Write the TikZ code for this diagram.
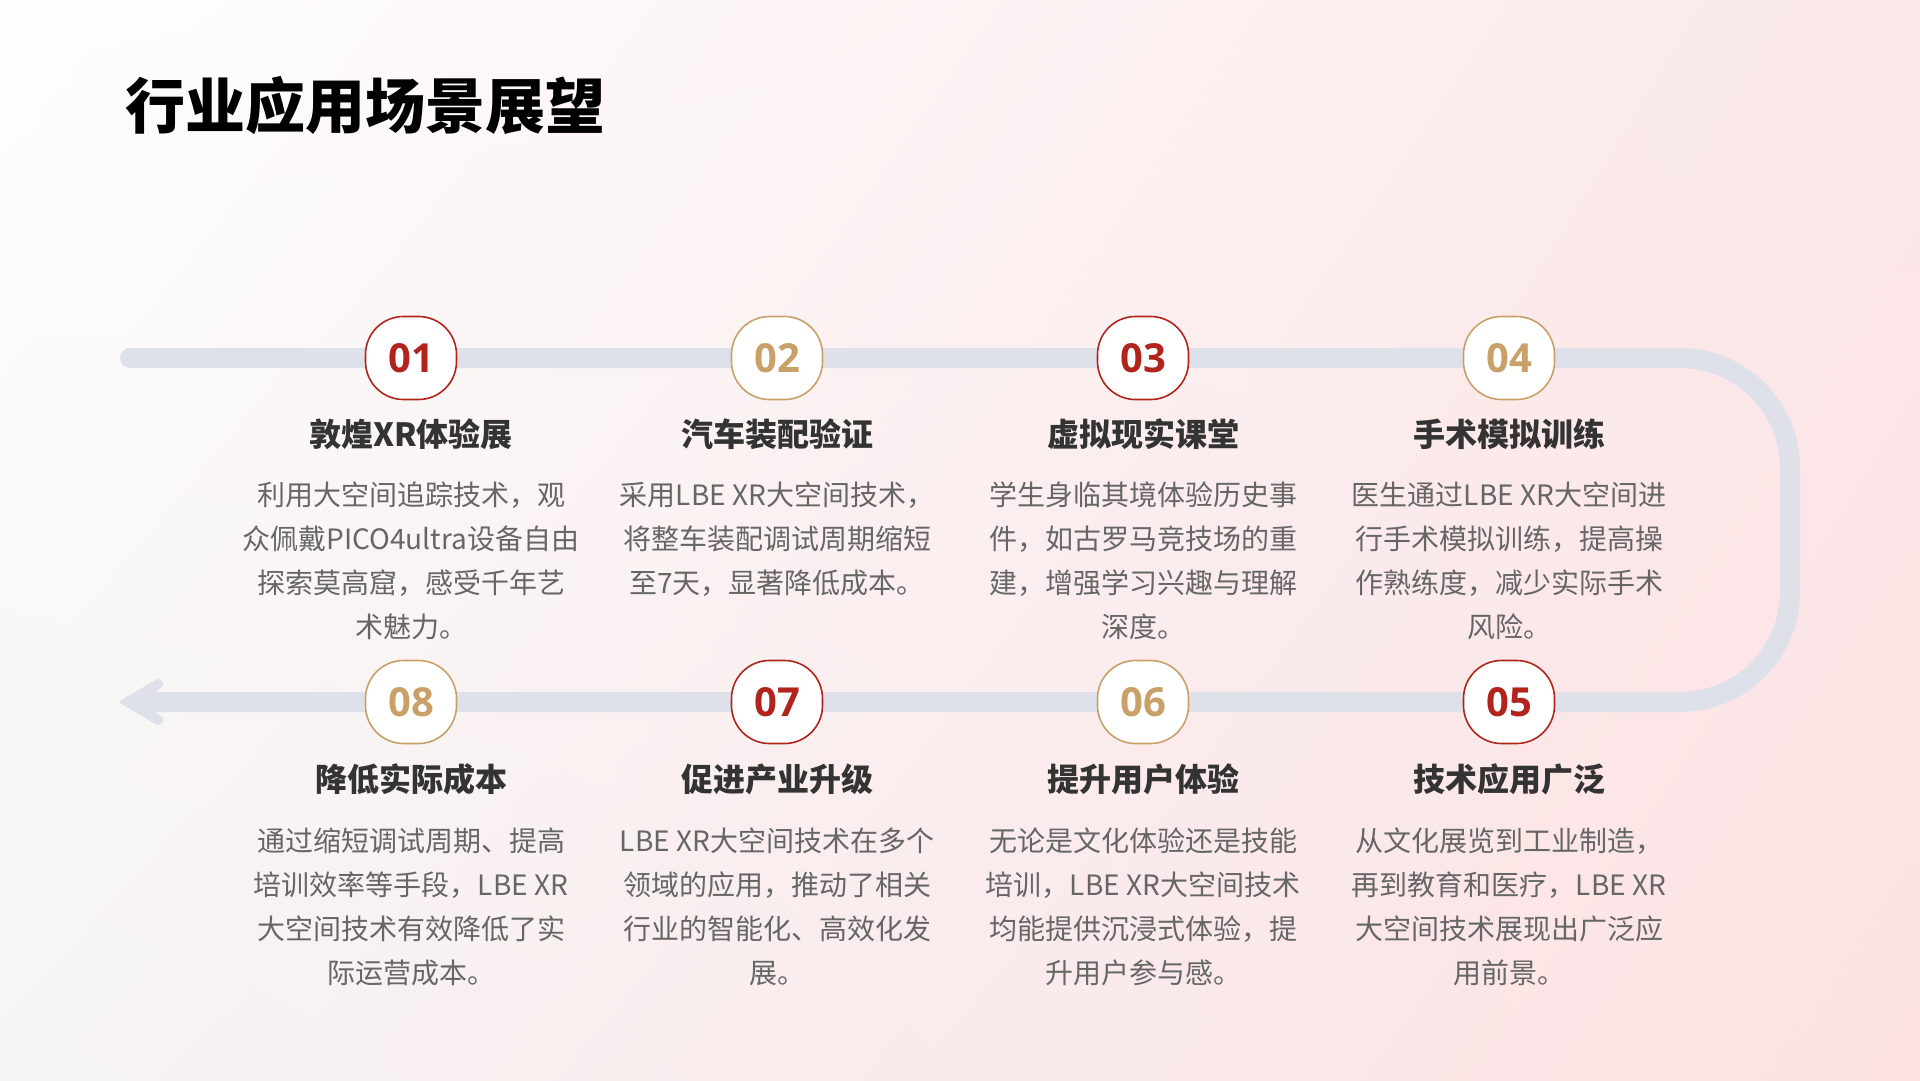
\documentclass[tikz,border=0pt]{standalone}
\usepackage{fontspec}
\usetikzlibrary{shadings}
\setmainfont{Noto Sans CJK SC}
\newfontfamily\numfont{Open Sans}
\definecolor{track}{HTML}{DFE1EA}
\definecolor{cred}{HTML}{B0241C}
\definecolor{cgold}{HTML}{C8A068}
\definecolor{chead}{HTML}{333333}
\definecolor{cbody}{HTML}{666666}
\definecolor{bgul}{HTML}{FEFEFE}
\definecolor{bgur}{HTML}{FBE8E9}
\definecolor{bgll}{HTML}{F6F4F4}
\definecolor{bglr}{HTML}{FDE1E2}
\tikzset{
  badge/.style={draw, fill=white, line width=1.6pt, rounded corners=38pt, minimum width=91pt, minimum height=83pt, inner sep=0pt, font=\numfont\bfseries\fontsize{40}{40}\selectfont},
  redbadge/.style={badge, draw=cred, text=cred},
  goldbadge/.style={badge, draw=cgold, text=cgold},
  head/.style={font=\bfseries\fontsize{32}{36}\selectfont, text=chead, inner sep=0pt},
  body/.style={font=\fontsize{28}{44}\selectfont, text=cbody, align=center, inner sep=0pt},
  trackline/.style={draw=track, line width=20pt},
}
\begin{document}
\begin{tikzpicture}[x=1pt,y=-1pt]
\useasboundingbox (0,0) rectangle (1920,1080);
\shade[upper left=bgul, upper right=bgur, lower left=bgll, lower right=bglr] (0,0) rectangle (1920,1080);

\node[anchor=west, font=\bfseries\fontsize{60}{66}\selectfont, inner sep=0pt, text=black] (title) at (125,106) {行业应用场景展望};

% track
\coordinate (start) at (130,358);
\coordinate (tr) at (1790,358);
\coordinate (br) at (1790,702);
\coordinate (end) at (140,702);
\draw[trackline, line cap=round, rounded corners=110pt] (start) -- (tr) -- (br) -- (end);
\fill[track, rounded corners=3pt] (118,702) -- (159,678) -- (165,685) -- (140,702) -- (165,719) -- (159,726) -- cycle;

% badges
\node[redbadge]  (b1) at (411,358) {01};
\node[goldbadge] (b2) at (777,358) {02};
\node[redbadge]  (b3) at (1143,358) {03};
\node[goldbadge] (b4) at (1509,358) {04};
\node[redbadge]  (b5) at (1509,702) {05};
\node[goldbadge] (b6) at (1143,702) {06};
\node[redbadge]  (b7) at (777,702) {07};
\node[goldbadge] (b8) at (411,702) {08};

% headings
\node[head] (h1) at (411,434.5) {敦煌XR体验展};
\node[head] (h2) at (777,434.5) {汽车装配验证};
\node[head] (h3) at (1143,434.5) {虚拟现实课堂};
\node[head] (h4) at (1509,434.5) {手术模拟训练};
\node[head] (h5) at (1509,779) {技术应用广泛};
\node[head] (h6) at (1143,779) {提升用户体验};
\node[head] (h7) at (777,779) {促进产业升级};
\node[head] (h8) at (411,779) {降低实际成本};

% bodies
\node[body] (t1) at (411,561) {利用大空间追踪技术，观\\众佩戴PICO4ultra设备自由\\探索莫高窟，感受千年艺\\术魅力。};
\node[body] (t2) at (777,539) {采用LBE XR大空间技术，\\将整车装配调试周期缩短\\至7天，显著降低成本。};
\node[body] (t3) at (1143,561) {学生身临其境体验历史事\\件，如古罗马竞技场的重\\建，增强学习兴趣与理解\\深度。};
\node[body] (t4) at (1509,561) {医生通过LBE XR大空间进\\行手术模拟训练，提高操\\作熟练度，减少实际手术\\风险。};
\node[body] (t5) at (1509,907) {从文化展览到工业制造，\\再到教育和医疗，LBE XR\\大空间技术展现出广泛应\\用前景。};
\node[body] (t6) at (1143,907) {无论是文化体验还是技能\\培训，LBE XR大空间技术\\均能提供沉浸式体验，提\\升用户参与感。};
\node[body] (t7) at (777,907) {LBE XR大空间技术在多个\\领域的应用，推动了相关\\行业的智能化、高效化发\\展。};
\node[body] (t8) at (411,907) {通过缩短调试周期、提高\\培训效率等手段，LBE XR\\大空间技术有效降低了实\\际运营成本。};
\end{tikzpicture}
\end{document}
